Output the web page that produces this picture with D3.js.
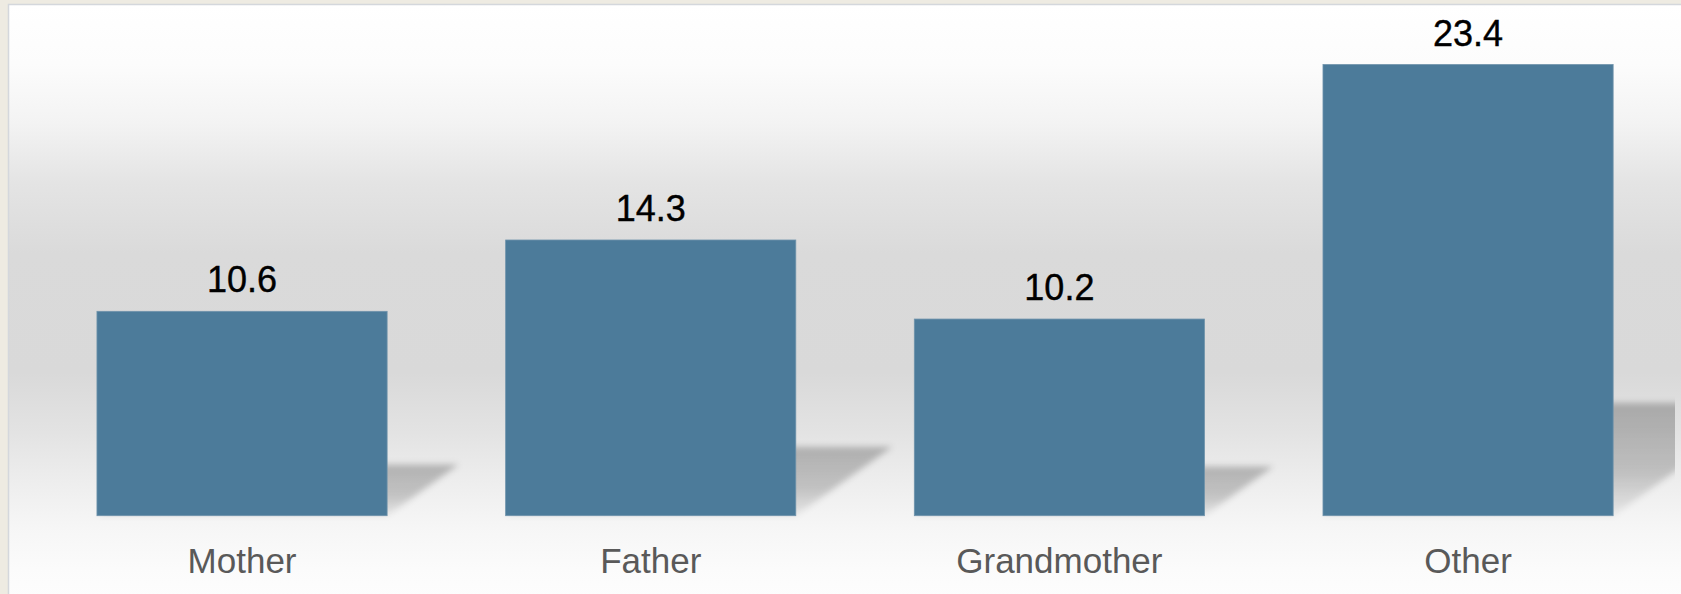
<!DOCTYPE html>
<html>
<head>
<meta charset="utf-8">
<script src="https://cdn.jsdelivr.net/npm/d3@7"></script>
<style>
  html, body { margin: 0; padding: 0; background: #eeebe2; }
  svg { display: block; }
</style>
</head>
<body>
<svg id="chart" width="1681" height="594"></svg>
<script>
// Category labels and their values
const categories = ["Mother", "Father", "Grandmother", "Other"];
const values = [10.6, 14.3, 10.2, 23.4];

const W = 1681, H = 594;
const svg = d3.select("#chart");
const defs = svg.append("defs");

// Panel background: white at the top, soft grey band through the middle, white at the bottom
const bg = defs.append("linearGradient")
  .attr("id", "panelGrad").attr("x1", 0).attr("y1", 0).attr("x2", 0).attr("y2", 1);
[[0, "#ffffff"], [0.1, "#fcfcfc"], [0.2, "#f3f3f3"], [0.3, "#e4e4e4"], [0.42, "#dadada"],
 [0.62, "#d9d9d9"], [0.72, "#e3e3e3"], [0.8, "#ededed"], [0.88, "#f6f6f6"], [0.95, "#fbfbfb"], [1, "#fdfdfd"]]
  .forEach(([o, c]) => bg.append("stop").attr("offset", o).attr("stop-color", c));

// Perspective shadow fill and blur
const sg = defs.append("linearGradient")
  .attr("id", "shadowGrad").attr("x1", 0).attr("y1", 0).attr("x2", 0).attr("y2", 1);
sg.append("stop").attr("offset", 0).attr("stop-color", "#000").attr("stop-opacity", 0.24);
sg.append("stop").attr("offset", 0.6).attr("stop-color", "#000").attr("stop-opacity", 0.19);
sg.append("stop").attr("offset", 1).attr("stop-color", "#000").attr("stop-opacity", 0.05);
defs.append("filter").attr("id", "shadowBlur")
  .attr("x", "-20%").attr("y", "-20%").attr("width", "140%").attr("height", "140%")
  .append("feGaussianBlur").attr("stdDeviation", 3);

defs.append("clipPath").attr("id", "plotClip")
  .append("rect").attr("x", 9).attr("y", 5).attr("width", 1666).attr("height", H);

// Chart panel
svg.append("rect")
  .attr("x", 8.5).attr("y", 4.5).attr("width", W).attr("height", H)
  .attr("fill", "url(#panelGrad)")
  .attr("stroke", "#d4d7dc").attr("stroke-width", 1.5);

// Scales
const x = d3.scaleBand()
  .domain(categories)
  .range([37.7, 1672.4])
  .paddingInner(0.29)
  .paddingOuter(0.145);

const y = d3.scaleLinear().domain([0, 25]).range([515.7, 33.7]);

const data = categories.map((c, i) => ({ cat: c, val: values[i] }));
const plot = svg.append("g").attr("clip-path", "url(#plotClip)");

// Shadows cast behind each bar, sheared up and to the right
const squash = 0.25, shear = 1.4;
plot.append("g").selectAll("polygon")
  .data(data).join("polygon")
  .attr("points", d => {
    const x0 = x(d.cat), x1 = x0 + x.bandwidth();
    const b = y(0), hs = squash * (y(0) - y(d.val));
    return [[x0, b], [x1, b], [x1 + shear * hs, b - hs], [x0 + shear * hs, b - hs]]
      .map(p => p.join(",")).join(" ");
  })
  .attr("fill", "url(#shadowGrad)")
  .attr("filter", "url(#shadowBlur)");

// Bars
plot.append("g").selectAll("rect")
  .data(data).join("rect")
  .attr("x", d => x(d.cat))
  .attr("y", d => y(d.val))
  .attr("width", x.bandwidth())
  .attr("height", d => y(0) - y(d.val))
  .attr("fill", "#4c7b9a")
  .attr("stroke", "#6f93ab").attr("stroke-width", 0.8);

// Value labels above bars
svg.append("g").selectAll("text")
  .data(data).join("text")
  .attr("x", d => x(d.cat) + x.bandwidth() / 2)
  .attr("y", d => y(d.val) - 19)
  .attr("text-anchor", "middle")
  .attr("font-family", "'Liberation Sans', Arial, sans-serif")
  .attr("font-size", 36)
  .attr("fill", "#000")
  .attr("stroke", "#000").attr("stroke-width", 0.4)
  .text(d => d.val.toFixed(1));

// Category axis labels
const xAxis = d3.axisBottom(x).tickSize(0).tickPadding(0);
const ax = svg.append("g").attr("transform", `translate(0, ${y(0)})`).call(xAxis);
ax.select(".domain").remove();
ax.selectAll("text")
  .attr("dy", null)
  .attr("y", 57)
  .attr("font-family", "'Liberation Sans', Arial, sans-serif")
  .attr("font-size", 35)
  .attr("fill", "#595959");
</script>
</body>
</html>
